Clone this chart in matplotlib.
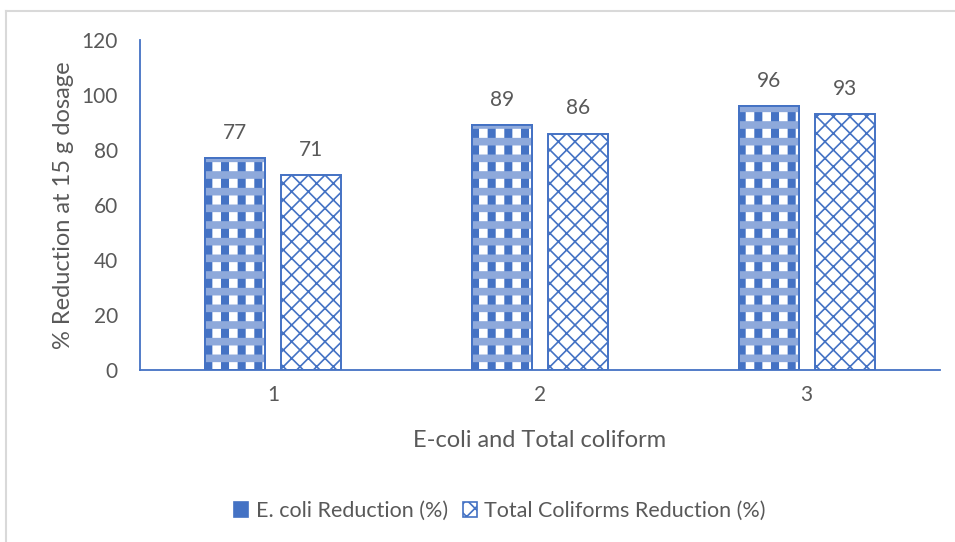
import matplotlib.pyplot as plt
import numpy as np
from matplotlib.patches import Rectangle
from matplotlib.lines import Line2D

categories = [1, 2, 3]
ecoli = [77, 89, 96]
coliforms = [71, 86, 93]
series_names = ['E. coli Reduction (%)', 'Total Coliforms Reduction (%)']

blue = '#4472C4'
light_blue = '#8EA9DB'
grey = '#595959'

plt.rcParams['font.family'] = ['Lato', 'DejaVu Sans']

fig = plt.figure(figsize=(9.55, 5.42), dpi=100)
ax = fig.add_axes([140 / 955, 1 - 370 / 542, 800 / 955, 330 / 542])

x = np.array(categories, dtype=float)
w = 0.225
off = 0.143


def hatched_bars(xs, vals, hatch, color, lw, face='white', edge=True):
    plt.rcParams['hatch.linewidth'] = lw
    bars = ax.bar(xs, vals, w, facecolor=face, edgecolor=color, hatch=hatch,
                  linewidth=1.4 if edge else 0)
    for b in bars:
        if hasattr(b, 'set_hatch_linewidth'):
            b.set_hatch_linewidth(lw)
    return bars


# E. coli: dark vertical stripes with light dotted bands across
hatched_bars(x - off, ecoli, '|', blue, 5.8)
hatched_bars(x - off, ecoli, '-', light_blue, 5.5, face='none', edge=False)
hatched_bars(x - off, ecoli, '', blue, 1.0, face='none')
# Total coliforms: thin diamond lattice
hatched_bars(x + off, coliforms, 'xx', blue, 1.2)

for xi, v in zip(x - off, ecoli):
    ax.text(xi, v + 5.5, str(v), ha='center', va='bottom', fontsize=15, color=grey)
for xi, v in zip(x + off, coliforms):
    ax.text(xi, v + 5.5, str(v), ha='center', va='bottom', fontsize=15, color=grey)

ax.set_xlim(0.5, 3.5)
ax.set_ylim(0, 120)
ax.set_yticks(range(0, 121, 20))
ax.set_xticks(x)
ax.set_xticklabels([str(c) for c in categories])
ax.tick_params(axis='y', length=0, labelsize=15, labelcolor=grey, pad=16)
ax.tick_params(axis='x', length=0, labelsize=15, labelcolor=grey, pad=11)
for s in ['top', 'right']:
    ax.spines[s].set_visible(False)
for s in ['left', 'bottom']:
    ax.spines[s].set_color(blue)
    ax.spines[s].set_linewidth(1.3)

ax.set_xlabel('E-coli and Total coliform', fontsize=17, color=grey, labelpad=18)
ax.set_ylabel('% Reduction at 15 g dosage', fontsize=17, color=grey, labelpad=5)

handles = [Rectangle((0, 0), 1, 1, facecolor=blue, edgecolor='white', hatch='++', linewidth=1.2),
           Rectangle((0, 0), 1, 1, facecolor='white', edgecolor=blue, hatch='xx', linewidth=1.2)]
plt.rcParams['hatch.linewidth'] = 1.2
leg = fig.legend(handles, series_names, loc='center', bbox_to_anchor=(500 / 955, 1 - 511 / 542),
                 ncol=2, frameon=False, fontsize=15.5, labelcolor=grey, handlelength=0.65,
                 handleheight=0.65, handletextpad=0.35, columnspacing=0.7)
for h in leg.legend_handles:
    h.set_edgecolor(blue)

# thin grey frame along the top and left edge
fig.add_artist(Line2D([6 / 955, 1], [1 - 11 / 542, 1 - 11 / 542], color='#D9D9D9', lw=1.5))
fig.add_artist(Line2D([6 / 955, 6 / 955], [0, 1 - 11 / 542], color='#D9D9D9', lw=1.5))

fig.savefig('out.png', dpi=100)
